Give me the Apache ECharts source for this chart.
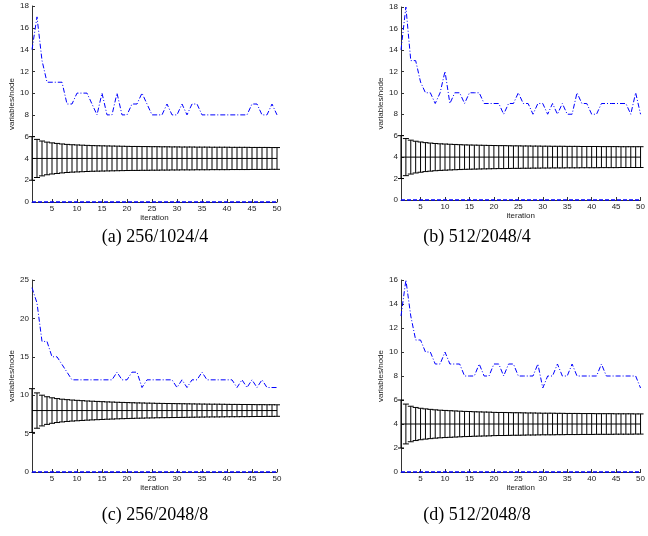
<!DOCTYPE html>
<html>
<head>
<meta charset="utf-8">
<script src="https://cdn.jsdelivr.net/npm/echarts@6/dist/echarts.min.js"></script>
<style>
  html, body { margin: 0; padding: 0; background: #fff; }
  #chart { width: 648px; height: 536px; }
</style>
</head>
<body>
<div id="chart"></div>
<script>
const iterations = [1, 2, 3, 4, 5, 6, 7, 8, 9, 10, 11, 12, 13, 14, 15, 16, 17, 18, 19, 20,
  21, 22, 23, 24, 25, 26, 27, 28, 29, 30, 31, 32, 33, 34, 35, 36, 37, 38, 39, 40,
  41, 42, 43, 44, 45, 46, 47, 48, 49, 50]
const xTicks = [5, 10, 15, 20, 25, 30, 35, 40, 45, 50]

// (a) 256/1024/4
const maxA = [14, 17, 13, 11, 11, 11, 11, 9, 9, 10, 10, 10, 9, 8, 10, 8, 8, 10, 8, 8,
  9, 9, 10, 9, 8, 8, 8, 9, 8, 8, 9, 8, 9, 9, 8, 8, 8, 8, 8, 8,
  8, 8, 8, 8, 9, 9, 8, 8, 9, 8]
const meanA = [4, 4, 4, 4, 4, 4, 4, 4, 4, 4, 4, 4, 4, 4, 4, 4, 4, 4, 4, 4,
  4, 4, 4, 4, 4, 4, 4, 4, 4, 4, 4, 4, 4, 4, 4, 4, 4, 4, 4, 4,
  4, 4, 4, 4, 4, 4, 4, 4, 4, 4]
const stdA = [2.0, 1.75, 1.6, 1.5, 1.43, 1.38, 1.33, 1.29, 1.26, 1.24, 1.22, 1.2, 1.18, 1.17, 1.16, 1.15, 1.14, 1.13, 1.12, 1.11,
  1.1, 1.1, 1.09, 1.09, 1.08, 1.08, 1.07, 1.07, 1.06, 1.06, 1.05, 1.05, 1.05, 1.04, 1.04, 1.04, 1.03, 1.03, 1.03, 1.03,
  1.02, 1.02, 1.02, 1.02, 1.01, 1.01, 1.01, 1.01, 1.0, 1.0]
const minA = [0, 0, 0, 0, 0, 0, 0, 0, 0, 0, 0, 0, 0, 0, 0, 0, 0, 0, 0, 0,
  0, 0, 0, 0, 0, 0, 0, 0, 0, 0, 0, 0, 0, 0, 0, 0, 0, 0, 0, 0,
  0, 0, 0, 0, 0, 0, 0, 0, 0, 0]

// (b) 512/2048/4
const maxB = [14, 18, 13, 13, 11, 10, 10, 9, 10, 12, 9, 10, 10, 9, 10, 10, 10, 9, 9, 9,
  9, 8, 9, 9, 10, 9, 9, 8, 9, 9, 8, 9, 8, 9, 8, 8, 10, 9, 9, 8,
  8, 9, 9, 9, 9, 9, 9, 8, 10, 8]
const meanB = [4, 4, 4, 4, 4, 4, 4, 4, 4, 4, 4, 4, 4, 4, 4, 4, 4, 4, 4, 4,
  4, 4, 4, 4, 4, 4, 4, 4, 4, 4, 4, 4, 4, 4, 4, 4, 4, 4, 4, 4,
  4, 4, 4, 4, 4, 4, 4, 4, 4, 4]
const stdB = [2.0, 1.73, 1.58, 1.48, 1.41, 1.35, 1.31, 1.27, 1.24, 1.22, 1.2, 1.18, 1.16, 1.14, 1.13, 1.12, 1.11, 1.1, 1.09, 1.08,
  1.07, 1.07, 1.06, 1.05, 1.05, 1.04, 1.04, 1.03, 1.03, 1.02, 1.02, 1.01, 1.01, 1.01, 1.0, 1.0, 1.0, 0.99, 0.99, 0.99,
  0.99, 0.98, 0.98, 0.98, 0.98, 0.97, 0.97, 0.97, 0.97, 0.97]
const minB = [0, 0, 0, 0, 0, 0, 0, 0, 0, 0, 0, 0, 0, 0, 0, 0, 0, 0, 0, 0,
  0, 0, 0, 0, 0, 0, 0, 0, 0, 0, 0, 0, 0, 0, 0, 0, 0, 0, 0, 0,
  0, 0, 0, 0, 0, 0, 0, 0, 0, 0]

// (c) 256/2048/8
const maxC = [24, 22, 17, 17, 15, 15, 14, 13, 12, 12, 12, 12, 12, 12, 12, 12, 12, 13, 12, 12,
  13, 13, 11, 12, 12, 12, 12, 12, 12, 11, 12, 11, 12, 12, 13, 12, 12, 12, 12, 12,
  12, 11, 12, 11, 12, 11, 12, 11, 11, 11]
const meanC = [8, 8, 8, 8, 8, 8, 8, 8, 8, 8, 8, 8, 8, 8, 8, 8, 8, 8, 8, 8,
  8, 8, 8, 8, 8, 8, 8, 8, 8, 8, 8, 8, 8, 8, 8, 8, 8, 8, 8, 8,
  8, 8, 8, 8, 8, 8, 8, 8, 8, 8]
const stdC = [2.85, 2.3, 2.0, 1.8, 1.66, 1.56, 1.48, 1.42, 1.37, 1.33, 1.29, 1.25, 1.22, 1.19, 1.16, 1.13, 1.11, 1.08, 1.06, 1.04,
  1.02, 1.0, 0.99, 0.97, 0.96, 0.94, 0.93, 0.92, 0.91, 0.9, 0.89, 0.88, 0.87, 0.86, 0.85, 0.84, 0.83, 0.83, 0.82, 0.81,
  0.8, 0.8, 0.79, 0.79, 0.78, 0.77, 0.77, 0.76, 0.76, 0.75]
const minC = [0, 0, 0, 0, 0, 0, 0, 0, 0, 0, 0, 0, 0, 0, 0, 0, 0, 0, 0, 0,
  0, 0, 0, 0, 0, 0, 0, 0, 0, 0, 0, 0, 0, 0, 0, 0, 0, 0, 0, 0,
  0, 0, 0, 0, 0, 0, 0, 0, 0, 0]

// (d) 512/2048/8
const maxD = [13, 16, 13, 11, 11, 10, 10, 9, 9, 10, 9, 9, 9, 8, 8, 8, 9, 8, 8, 9,
  9, 8, 9, 9, 8, 8, 8, 8, 9, 7, 8, 8, 9, 8, 8, 9, 8, 8, 8, 8,
  8, 9, 8, 8, 8, 8, 8, 8, 8, 7]
const meanD = [4, 4, 4, 4, 4, 4, 4, 4, 4, 4, 4, 4, 4, 4, 4, 4, 4, 4, 4, 4,
  4, 4, 4, 4, 4, 4, 4, 4, 4, 4, 4, 4, 4, 4, 4, 4, 4, 4, 4, 4,
  4, 4, 4, 4, 4, 4, 4, 4, 4, 4]
const stdD = [2.0, 1.66, 1.48, 1.38, 1.31, 1.26, 1.22, 1.18, 1.15, 1.13, 1.11, 1.09, 1.07, 1.05, 1.04, 1.02, 1.01, 1.0, 0.99, 0.97,
  0.96, 0.96, 0.95, 0.94, 0.94, 0.93, 0.92, 0.92, 0.91, 0.9, 0.9, 0.9, 0.89, 0.89, 0.88, 0.88, 0.88, 0.87, 0.87, 0.87,
  0.86, 0.86, 0.86, 0.86, 0.85, 0.85, 0.85, 0.85, 0.84, 0.84]
const minD = [0, 0, 0, 0, 0, 0, 0, 0, 0, 0, 0, 0, 0, 0, 0, 0, 0, 0, 0, 0,
  0, 0, 0, 0, 0, 0, 0, 0, 0, 0, 0, 0, 0, 0, 0, 0, 0, 0, 0, 0,
  0, 0, 0, 0, 0, 0, 0, 0, 0, 0]

const captions = ['(a) 256/1024/4', '(b) 512/2048/4', '(c) 256/2048/8', '(d) 512/2048/8']

const panels = [
  { grid: { left: 32, top: 6, width: 245, height: 196 }, yMax: 18, yStep: 2, max: maxA, mean: meanA, std: stdA, min: minA, cap: [155, 237] },
  { grid: { left: 401, top: 7, width: 244, height: 193 }, yMax: 18, yStep: 2, max: maxB, mean: meanB, std: stdB, min: minB, cap: [477, 237] },
  { grid: { left: 32, top: 280, width: 245, height: 192 }, yMax: 25, yStep: 5, max: maxC, mean: meanC, std: stdC, min: minC, cap: [155, 515] },
  { grid: { left: 401, top: 280, width: 244, height: 192 }, yMax: 16, yStep: 2, max: maxD, mean: meanD, std: stdD, min: minD, cap: [477, 515] }
]

const axisFont = { fontFamily: 'Liberation Sans', fontSize: 8, color: '#222' }
const axisLine = { show: true, lineStyle: { color: '#333', width: 1 } }

// mean +/- std bar with caps, like matlab errorbar
function renderErrorBar(params, api) {
  const x = api.value(0)
  const m = api.value(1)
  const s = api.value(2)
  const hi = api.coord([x, m + s])
  const lo = api.coord([x, m - s])
  const hw = 3
  const style = { stroke: '#000', lineWidth: 1 }
  return {
    type: 'group',
    children: [
      { type: 'line', shape: { x1: hi[0], y1: hi[1], x2: lo[0], y2: lo[1] }, style },
      { type: 'line', shape: { x1: hi[0] - hw, y1: hi[1], x2: hi[0] + hw, y2: hi[1] }, style },
      { type: 'line', shape: { x1: lo[0] - hw, y1: lo[1], x2: lo[0] + hw, y2: lo[1] }, style }
    ]
  }
}

function createSeries(i, p) {
  const pair = arr => iterations.map((it, k) => [it, arr[k]])
  return [
    {
      type: 'custom',
      xAxisIndex: i,
      yAxisIndex: i,
      renderItem: renderErrorBar,
      encode: { x: 0, y: 1 },
      data: iterations.map((it, k) => [it, p.mean[k], p.std[k]]),
      z: 3
    },
    {
      type: 'line',
      xAxisIndex: i,
      yAxisIndex: i,
      data: pair(p.mean),
      symbol: 'none',
      lineStyle: { color: '#000', width: 1 },
      z: 3
    },
    {
      type: 'line',
      xAxisIndex: i,
      yAxisIndex: i,
      data: pair(p.max),
      symbol: 'none',
      clip: false,
      lineStyle: { color: '#0000ff', width: 1, type: [5, 2, 1, 2] },
      z: 4
    },
    {
      type: 'line',
      xAxisIndex: i,
      yAxisIndex: i,
      data: pair(p.min),
      symbol: 'none',
      clip: false,
      lineStyle: { color: '#0000ff', width: 1.5, type: [4, 2] },
      z: 4
    }
  ]
}

const chart = echarts.init(document.getElementById('chart'))
chart.setOption({
  animation: false,
  backgroundColor: '#fff',
  grid: panels.map(p => p.grid),
  xAxis: panels.map((p, i) => ({
    type: 'value',
    gridIndex: i,
    min: 1,
    max: 50,
    name: 'iteration',
    nameLocation: 'middle',
    nameGap: 10,
    nameTextStyle: axisFont,
    axisLine,
    axisTick: { inside: true, length: 3, customValues: xTicks, lineStyle: { color: '#333' } },
    axisLabel: Object.assign({ margin: 3, customValues: xTicks }, axisFont),
    splitLine: { show: false }
  })),
  yAxis: panels.map((p, i) => ({
    type: 'value',
    gridIndex: i,
    min: 0,
    max: p.yMax,
    interval: p.yStep,
    name: 'variables/node',
    nameLocation: 'middle',
    nameGap: 15,
    nameTextStyle: axisFont,
    axisLine,
    axisTick: { inside: true, length: 3, lineStyle: { color: '#333' } },
    axisLabel: Object.assign({ margin: 3 }, axisFont),
    splitLine: { show: false }
  })),
  graphic: panels.map((p, i) => ({
    type: 'text',
    x: p.cap[0],
    y: p.cap[1],
    style: {
      text: captions[i],
      font: '18px "Liberation Serif"',
      fill: '#000',
      textAlign: 'center',
      textVerticalAlign: 'middle'
    }
  })),
  series: panels.flatMap((p, i) => createSeries(i, p))
})
</script>
</body>
</html>
